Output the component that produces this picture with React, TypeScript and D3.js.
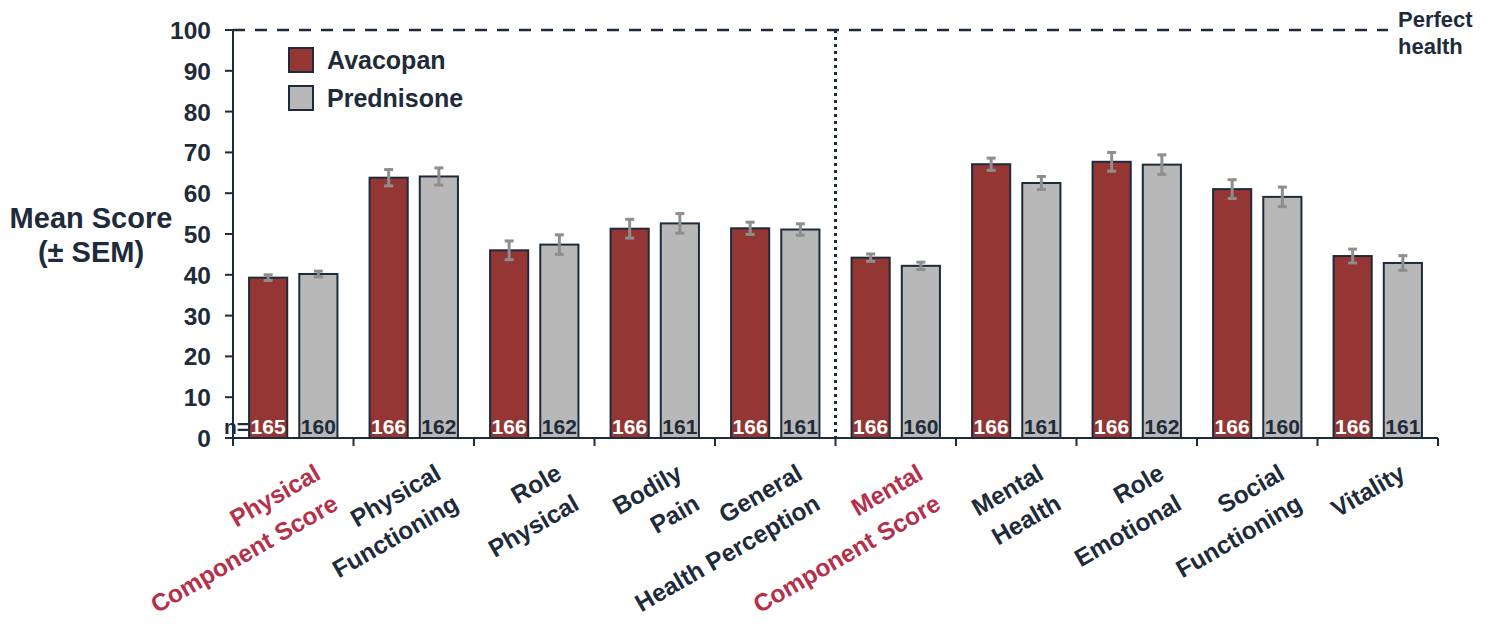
import React from "react";
import * as d3 from "d3";

// SF-36 domain scores by treatment arm
const categories = [
  ["Physical", "Component Score"],
  ["Physical", "Functioning"],
  ["Role", "Physical"],
  ["Bodily", "Pain"],
  ["General", "Health Perception"],
  ["Mental", "Component Score"],
  ["Mental", "Health"],
  ["Role", "Emotional"],
  ["Social", "Functioning"],
  ["Vitality"],
];
const isSummary = [true, false, false, false, false, true, false, false, false, false];
const series = ["Avacopan", "Prednisone"];
const avacopanMean = [39.3, 63.8, 46.0, 51.3, 51.4, 44.2, 67.1, 67.7, 61.0, 44.6];
const avacopanSem = [0.7, 2.0, 2.3, 2.3, 1.5, 0.9, 1.5, 2.3, 2.3, 1.7];
const prednisoneMean = [40.2, 64.1, 47.4, 52.6, 51.1, 42.2, 62.5, 67.0, 59.1, 42.9];
const prednisoneSem = [0.7, 2.1, 2.4, 2.4, 1.4, 0.9, 1.6, 2.4, 2.4, 1.8];
const avacopanN = [165, 166, 166, 166, 166, 166, 166, 166, 166, 166];
const prednisoneN = [160, 162, 162, 161, 161, 160, 161, 162, 160, 161];
const yTicks = [0, 10, 20, 30, 40, 50, 60, 70, 80, 90, 100];

const W = 1494;
const H = 625;
const M = { left: 233, right: 1438, top: 30, bottom: 438 };
const DARK = "#1e2b3a";
const RED = "#943634";
const GREY = "#b8b8b8";
const LABEL_RED = "#b5304a";
const ERR = "#8e8e8e";
const FONT = "'Liberation Sans', Arial, sans-serif";

export default function App() {
  const x = d3
    .scaleBand<number>()
    .domain(d3.range(categories.length))
    .range([M.left, M.right]);
  const y = d3.scaleLinear().domain([0, 100]).range([M.bottom, M.top]);
  const inner = d3
    .scaleBand<string>()
    .domain(series)
    .range([0, x.bandwidth()])
    .paddingInner(0.24)
    .paddingOuter(0.32);
  const bw = inner.bandwidth();

  const arms = [
    { name: "Avacopan", mean: avacopanMean, sem: avacopanSem, n: avacopanN, fill: RED, text: "#ffffff" },
    { name: "Prednisone", mean: prednisoneMean, sem: prednisoneSem, n: prednisoneN, fill: GREY, text: DARK },
  ];

  const angle = -30;
  const lh = 35;

  return (
    <svg width={W} height={H} style={{ display: "block", position: "absolute", left: 0, top: 0 }} fontFamily={FONT}>
      {/* perfect-health reference line */}
      <line x1={M.left} x2={1388} y1={y(100)} y2={y(100)} stroke={DARK} strokeWidth={2.5} strokeDasharray="12 10" />
      <text x={1398} y={27} fontSize={22} fontWeight="bold" fill={DARK}>
        <tspan x={1398}>Perfect</tspan>
        <tspan x={1398} dy={27}>health</tspan>
      </text>

      {/* divider between physical and mental domains */}
      <line
        x1={x(5)!}
        x2={x(5)!}
        y1={y(100)}
        y2={y(0)}
        stroke={DARK}
        strokeWidth={3}
        strokeDasharray="3 4"
      />

      {/* bars */}
      {arms.map((arm) =>
        arm.mean.map((v, i) => {
          const bx = x(i)! + inner(arm.name)!;
          return (
            <g key={arm.name + i}>
              <rect
                x={bx}
                y={y(v)}
                width={bw}
                height={y(0) - y(v)}
                fill={arm.fill}
                stroke={DARK}
                strokeWidth={2}
              />
              <text
                x={bx + bw / 2}
                y={y(0) - 4}
                textAnchor="middle"
                fontSize={21}
                fontWeight="bold"
                fill={arm.text}
              >
                {arm.n[i]}
              </text>
            </g>
          );
        })
      )}

      {/* error bars */}
      {arms.map((arm) =>
        arm.mean.map((v, i) => {
          const cx = x(i)! + inner(arm.name)! + bw / 2;
          const lo = y(v - arm.sem[i]);
          const hi = y(v + arm.sem[i]);
          return (
            <g key={"e" + arm.name + i} stroke={ERR} strokeWidth={3}>
              <line x1={cx} x2={cx} y1={lo} y2={hi} />
              <line x1={cx - 4.5} x2={cx + 4.5} y1={lo} y2={lo} />
              <line x1={cx - 4.5} x2={cx + 4.5} y1={hi} y2={hi} />
            </g>
          );
        })
      )}

      <text x={x(0)! + inner("Avacopan")!} y={y(0) - 4} textAnchor="end" fontSize={21} fontWeight="bold" fill={DARK}>
        n=
      </text>

      {/* y axis */}
      <line x1={M.left} x2={M.left} y1={y(100)} y2={y(0)} stroke={DARK} strokeWidth={2} />
      {yTicks.map((t) => (
        <g key={t}>
          <line x1={M.left - 8} x2={M.left} y1={y(t)} y2={y(t)} stroke={DARK} strokeWidth={2} />
          <text x={211} y={y(t) + 9} textAnchor="end" fontSize={24.5} fontWeight="bold" fill={DARK}>
            {t}
          </text>
        </g>
      ))}
      <text x={91} y={228} textAnchor="middle" fontSize={29} fontWeight="bold" fill={DARK}>
        <tspan x={91}>Mean Score</tspan>
        <tspan x={91} dy={34}>(± SEM)</tspan>
      </text>

      {/* x axis */}
      <line x1={M.left} x2={M.right} y1={y(0)} y2={y(0)} stroke={DARK} strokeWidth={2} />
      {d3.range(categories.length + 1).map((i) => {
        const tx = M.left + i * x.step();
        return <line key={i} x1={tx} x2={tx} y1={y(0)} y2={y(0) + 8} stroke={DARK} strokeWidth={2} />;
      })}
      {categories.map((lines, i) => {
        const cx = x(i)! + x.bandwidth() / 2;
        return (
          <text
            key={i}
            transform={`translate(${cx + 29},${478}) rotate(${angle})`}
            textAnchor="end"
            fontSize={24.5}
            fontWeight="bold"
            fill={isSummary[i] ? LABEL_RED : DARK}
          >
            {lines.map((s, k) => (
              <tspan key={k} x={0} dy={k === 0 ? 0 : lh}>
                {s}
              </tspan>
            ))}
          </text>
        );
      })}

      {/* legend */}
      {arms.map((arm, k) => (
        <g key={"lg" + k} transform={`translate(289,${48 + k * 38})`}>
          <rect x={0} y={0} width={24} height={24} fill={arm.fill} stroke={DARK} strokeWidth={2} />
          <text x={38} y={21} fontSize={25} fontWeight="bold" fill={DARK}>
            {arm.name}
          </text>
        </g>
      ))}
    </svg>
  );
}
